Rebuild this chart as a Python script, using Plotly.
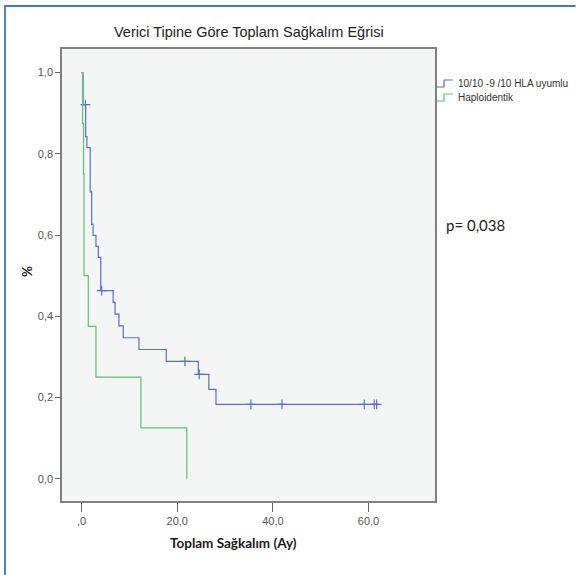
import plotly.graph_objects as go

# ---- data ----
blue_name = "10/10 -9 /10 HLA uyumlu"
blue_t = [0, 0.3, 0.85, 1.1, 1.8, 2.1, 2.4, 3.0, 3.5, 4.0, 6.6, 7.0, 7.8, 8.7, 12.0, 17.7, 24.4, 26.6, 28.1, 61.8]
blue_s = [1.0, 0.921, 0.842, 0.815, 0.706, 0.626, 0.599, 0.572, 0.545, 0.463, 0.434, 0.405, 0.376, 0.347, 0.318, 0.289, 0.257, 0.220, 0.183, 0.183]
blue_cens_t = [0.8, 4.2, 21.6, 24.6, 35.4, 41.9, 59.1, 61.2, 61.7]
blue_cens_s = [0.921, 0.463, 0.289, 0.257, 0.183, 0.183, 0.183, 0.183, 0.183]

green_name = "Haploidentik"
green_t = [0, 0.2, 0.4, 0.5, 1.4, 3.0, 12.4, 22.0]
green_s = [1.0, 0.875, 0.75, 0.5, 0.375, 0.25, 0.125, 0.0]

x_tick_vals = [0, 20, 40, 60]
x_tick_text = [",0", "20,0", "40,0", "60,0"]
y_tick_vals = [0.0, 0.2, 0.4, 0.6, 0.8, 1.0]
y_tick_text = ["0,0", "0,2", "0,4", "0,6", "0,8", "1,0"]

title_text = "Verici Tipine Göre Toplam Sağkalım Eğrisi"
x_title = "Toplam Sağkalım (Ay)"
y_title = "%"
p_text = "p= 0,038"

BLUE = "#5870c6"
GREEN = "#5cc26f"
FRAME = "#3a7cc0"

W, H = 576, 575
L, R, T, B = 62, 435, 49, 501


def px(x):
    return (x - L) / (R - L)


def py(y):
    return (B - y) / (B - T)


fig = go.Figure()
fig.add_trace(go.Scatter(x=blue_t, y=blue_s, mode="lines", line=dict(color=BLUE, width=1.2, shape="hv"),
                         name=blue_name, showlegend=False, hoverinfo="skip"))
fig.add_trace(go.Scatter(x=blue_cens_t, y=blue_cens_s, mode="markers",
                         marker=dict(symbol="cross-thin", size=7, line=dict(color=BLUE, width=1.2)),
                         showlegend=False, hoverinfo="skip"))
fig.add_trace(go.Scatter(x=green_t, y=green_s, mode="lines", line=dict(color=GREEN, width=1.2, shape="hv"),
                         name=green_name, showlegend=False, hoverinfo="skip"))

shapes = []
# outer blue frame: top edge drawn as a path, left edge as a band
shapes.append(dict(type="path", xref="paper", yref="paper",
                   path=f"M {px(5)} {py(H)} L {px(5)} {py(6)} L {px(W - 0.5)} {py(6)}",
                   line=dict(color=FRAME, width=1.8), layer="above"))
# legend symbols
for yy, col in [(83, BLUE), (97, GREEN)]:
    shapes.append(dict(type="path", xref="paper", yref="paper",
                       path=f"M {px(437)} {py(yy + 4)} L {px(444)} {py(yy + 4)} L {px(444)} {py(yy - 3)} L {px(453)} {py(yy - 3)}",
                       line=dict(color=col, width=1.2)))

annotations = [
    dict(text=title_text, x=px(249), y=py(32), xref="paper", yref="paper", showarrow=False,
         font=dict(family="Liberation Sans, Arial", size=14.5, color="#222222"), xanchor="center", yanchor="middle"),
    dict(text=f"<b>{x_title}</b>", x=px(233), y=py(543), xref="paper", yref="paper", showarrow=False,
         font=dict(family="Lato", size=13.5, color="#1a1a1a"), xanchor="center", yanchor="middle"),
    dict(text=f"<b>{y_title}</b>", x=px(27), y=py(272), xref="paper", yref="paper", showarrow=False,
         textangle=-90, font=dict(family="Lato", size=13.5, color="#1a1a1a"), xanchor="center", yanchor="middle"),
    dict(text=p_text, x=px(444), y=py(225), xref="paper", yref="paper", showarrow=False,
         font=dict(family="Lato", size=15, color="#222222"), xanchor="left", yanchor="middle"),
    dict(text=blue_name, x=px(456), y=py(83), xref="paper", yref="paper", showarrow=False,
         font=dict(family="Liberation Sans, Arial", size=10, color="#333333"), xanchor="left", yanchor="middle"),
    dict(text=green_name, x=px(456), y=py(97), xref="paper", yref="paper", showarrow=False,
         font=dict(family="Liberation Sans, Arial", size=10, color="#333333"), xanchor="left", yanchor="middle"),
]

fig.update_layout(
    width=W, height=H,
    margin=dict(l=L, r=W - R, t=T, b=H - B, pad=0),
    paper_bgcolor="white", plot_bgcolor="#f4f5f5",
    showlegend=False,
    shapes=shapes, annotations=annotations,
    font=dict(family="Liberation Sans, Arial", size=11, color="#555555"),
)
fig.update_xaxes(range=[-4.1, 73.9], tickvals=x_tick_vals, ticktext=x_tick_text, showgrid=False, zeroline=False,
                 showline=True, linecolor="#808080", linewidth=1.5, mirror=True,
                 ticks="outside", ticklen=9, tickcolor="#666666", tickwidth=1.2,
                 tickfont=dict(size=11, color="#555555"))
fig.update_yaxes(range=[-0.055, 1.058], tickvals=y_tick_vals, ticktext=y_tick_text, showgrid=False, zeroline=False,
                 showline=True, linecolor="#808080", linewidth=1.5, mirror=True,
                 ticks="outside", ticklen=5, tickcolor="#666666", tickwidth=1.2,
                 tickfont=dict(size=11, color="#555555"))

fig.write_html("out.html", config={"displayModeBar": False},
               post_script="document.body.style.margin='0';document.body.style.overflow='hidden';")
